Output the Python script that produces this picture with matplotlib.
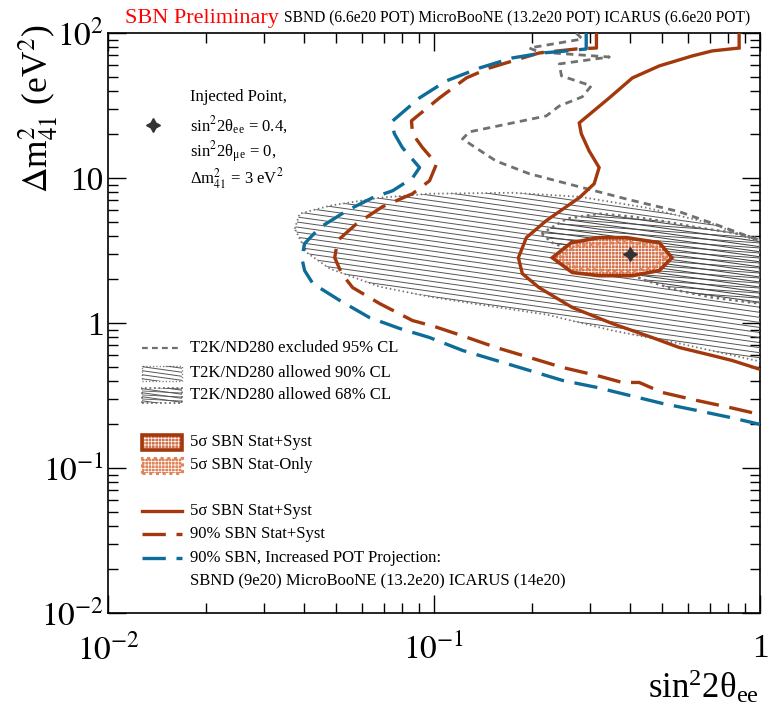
import numpy as np
import matplotlib
matplotlib.use('Agg')
import matplotlib.pyplot as plt
from matplotlib.patches import Polygon, Rectangle
from matplotlib.collections import LineCollection
from matplotlib.lines import Line2D
from matplotlib.ticker import FixedLocator, FixedFormatter, LogLocator, NullFormatter

plt.rcParams['font.family'] = ['Liberation Serif', 'DejaVu Serif']
plt.rcParams['mathtext.fontset'] = 'stix'
plt.rcParams['hatch.linewidth'] = 0.5

# ---------------- data ----------------
ss5_x = [0.863, 0.863, 0.713, 0.62, 0.491, 0.406, 0.345, 0.279, 0.283, 0.299, 0.321, 0.310, 0.279,
         0.221, 0.192, 0.1815, 0.1866, 0.210, 0.2655, 0.352, 0.467, 0.565, 0.713, 0.820, 1.0]
ss5_y = [100, 78.8, 75.2, 69.5, 59.3, 49.0, 35.7, 24.0, 20.2, 15.4, 11.8, 9.13, 7.31,
         5.08, 3.88, 2.82, 2.19, 1.755, 1.28, 0.992, 0.794, 0.678, 0.597, 0.552, 0.479]

ss90_x = [0.315, 0.315, 0.273, 0.210, 0.174, 0.148, 0.1257, 0.104, 0.0853, 0.0859, 0.0922, 0.1018,
          0.0969, 0.0859, 0.0695, 0.0579, 0.0506, 0.0496, 0.0521, 0.0563, 0.0681, 0.0859, 0.1003,
          0.124, 0.155, 0.196, 0.2476, 0.315, 0.378, 0.426, 0.501, 0.637, 0.804, 1.0]
ss90_y = [100, 78.8, 77.6, 72.8, 64.1, 57.4, 49.0, 35.7, 24.8, 20.2, 16.2, 12.5,
          9.57, 7.79, 6.34, 4.84, 3.70, 2.82, 2.19, 1.755, 1.362, 1.04, 0.946,
          0.807, 0.678, 0.579, 0.494, 0.435, 0.389, 0.389, 0.332, 0.293, 0.262, 0.234]

proj_x = [0.293, 0.293, 0.255, 0.215, 0.174, 0.138, 0.109, 0.0903, 0.0741, 0.0756, 0.080, 0.0903,
          0.0859, 0.0747, 0.0648, 0.054, 0.0446, 0.0401, 0.0393, 0.0401, 0.0425, 0.0514, 0.0634,
          0.0784, 0.0969, 0.1223, 0.155, 0.196, 0.2476, 0.315, 0.397, 0.501, 0.637, 0.804, 1.0]
proj_y = [100, 77.6, 75.2, 72.8, 67.3, 57.4, 46.7, 35.7, 24.4, 20.2, 16.2, 11.8,
          10.0, 8.17, 7.31, 5.95, 4.54, 3.53, 2.82, 2.30, 1.87, 1.43, 1.09,
          0.917, 0.794, 0.647, 0.552, 0.471, 0.402, 0.360, 0.317, 0.279, 0.250, 0.224, 0.200]

excl_x = [0.273, 0.285, 0.196, 0.210, 0.345, 0.2424, 0.246, 0.3037, 0.285, 0.2424, 0.221, 0.1284,
          0.1223, 0.133, 0.155, 0.196, 0.279, 0.397, 0.565, 0.749, 1.0]
excl_y = [100, 90.9, 78.8, 74.0, 68.3, 61.2, 50.6, 43.2, 36.3, 31.4, 26.8, 20.8,
          18.6, 16.4, 13.1, 10.7, 8.70, 7.08, 5.86, 4.69, 3.70]

t2k90_x = [0.0374, 0.0387, 0.0479, 0.0681, 0.0969, 0.174, 0.279, 0.448, 0.713, 1.0,
           1.0, 0.565, 0.352, 0.221, 0.138, 0.0969, 0.0681, 0.0479, 0.0407]
t2k90_y = [4.47, 5.67, 6.44, 7.31, 7.79, 7.91, 7.43, 6.24, 4.84, 3.58,
           0.543, 0.723, 0.888, 1.144, 1.34, 1.52, 1.78, 2.37, 3.06]

t2k68_x = [0.2135, 0.255, 0.321, 0.406, 0.515, 0.650, 0.820, 1.0,
           1.0, 0.713, 0.565, 0.448, 0.352, 0.279, 0.2307]
t2k68_y = [4.13, 5.24, 5.67, 5.41, 5.0, 4.54, 4.20, 3.82,
           1.362, 1.50, 1.67, 1.96, 2.41, 3.01, 3.58]

sbn5_x = [0.2307, 0.2636, 0.321, 0.389, 0.491, 0.537, 0.491, 0.406, 0.321, 0.2655]
sbn5_y = [2.82, 3.58, 3.88, 3.88, 3.58, 2.82, 2.30, 2.12, 2.12, 2.23]

stat_x = [0.2424, 0.275, 0.389, 0.473, 0.512, 0.473, 0.389, 0.275]
stat_y = [2.82, 3.42, 3.64, 3.37, 2.82, 2.41, 2.26, 2.37]

inj_x = [0.4]
inj_y = [3.0]

xtick_vals = [1e-2, 1e-1, 1]
xtick_labels = [r'$10^{-2}$', r'$10^{-1}$', '1']
ytick_vals = [1e-2, 1e-1, 1, 10, 100]
ytick_labels = [r'$10^{-2}$', r'$10^{-1}$', '1', '10', r'$10^{2}$']

legend_labels = ['T2K/ND280 excluded 95% CL', 'T2K/ND280 allowed 90% CL', 'T2K/ND280 allowed 68% CL',
                 '5σ SBN Stat+Syst', '5σ SBN Stat-Only',
                 '5σ SBN Stat+Syst', '90% SBN Stat+Syst', '90% SBN, Increased POT Projection:',
                 'SBND (9e20) MicroBooNE (13.2e20) ICARUS (14e20)']

# ---------------- style ----------------
RED = '#a3380c'
BLUE = '#0e6d98'
ORANGE = '#d4714a'
ORANGE_L = '#e08358'
GRAY = '#707070'
HATCH = '#555555'

W, H = 780, 709
fig = plt.figure(figsize=(W / 100, H / 100), dpi=100)
AX_L, AX_R, AX_T, AX_B = 108, 760, 33, 613
ax = fig.add_axes([AX_L / W, 1 - AX_B / H, (AX_R - AX_L) / W, (AX_B - AX_T) / H])
ax.set_xscale('log')
ax.set_yscale('log')

wpx, hpx = AX_R - AX_L, AX_B - AX_T


def hatch_lines(poly, spacing_px, angle_deg, color, lw, offset=0.0, transform=None,
                box=(0, 0, 1, 1), wp=wpx, hp=hpx):
    x0, y0, x1, y1 = box
    slope_px = -np.tan(np.radians(angle_deg))
    s = slope_px * (wp / hp) * (y1 - y0) / (x1 - x0)
    sp = spacing_px / hp * (y1 - y0) / np.cos(np.radians(angle_deg))
    cs = np.arange(y0 - 1.5 * (y1 - y0), y1 + 1.5 * (y1 - y0), sp) + offset * sp
    segs = [[(x0, c), (x1, c + s * (x1 - x0))] for c in cs]
    lc = LineCollection(segs, transform=transform, colors=color, linewidths=lw)
    lc.set_clip_path(poly)
    return lc


# T2K 90% allowed
p90 = Polygon(np.column_stack([t2k90_x, t2k90_y]), closed=True, transform=ax.transData,
              facecolor='none', edgecolor='none')
ax.add_patch(p90)
ax.add_collection(hatch_lines(p90, 5.0, 8, HATCH, 0.7, transform=ax.transAxes), autolim=False)
ax.plot(t2k90_x + t2k90_x[:1], t2k90_y + t2k90_y[:1], color=GRAY, lw=1.3,
        linestyle=(0, (0.8, 1.6)), zorder=3)

# T2K 68% allowed
p68 = Polygon(np.column_stack([t2k68_x, t2k68_y]), closed=True, transform=ax.transData,
              facecolor='white', edgecolor='none', zorder=2.5)
ax.add_patch(p68)
c68a = hatch_lines(p68, 5.0, 8, '#444444', 0.75, transform=ax.transAxes)
c68a.set_zorder(2.6)
ax.add_collection(c68a, autolim=False)
c68 = hatch_lines(p68, 5.0, 4, '#444444', 0.65, offset=0.5, transform=ax.transAxes)
c68.set_zorder(2.6)
ax.add_collection(c68, autolim=False)
ax.plot(t2k68_x + t2k68_x[:1], t2k68_y + t2k68_y[:1], color=GRAY, lw=1.8,
        linestyle=(0, (1.0, 1.5)), zorder=3)

# T2K excluded
ax.plot(excl_x, excl_y, color=GRAY, lw=2.0, linestyle=(0, (2.6, 1.9)), zorder=4)

# SBN 5 sigma regions
ax.add_patch(Polygon(np.column_stack([sbn5_x, sbn5_y]), closed=True, facecolor=ORANGE,
                     edgecolor='white', hatch='+++++', lw=0, zorder=5))
ax.add_patch(Polygon(np.column_stack([stat_x, stat_y]), closed=True, facecolor='none',
                     edgecolor=ORANGE_L, lw=2.2, linestyle=(0, (1, 1.2)), zorder=5.5))
ax.add_patch(Polygon(np.column_stack([sbn5_x, sbn5_y]), closed=True, facecolor='none',
                     edgecolor=RED, lw=2.6, zorder=6))

# curves
ax.plot(ss5_x, ss5_y, color=RED, lw=2.4, zorder=7, solid_joinstyle='miter')
ax.plot(ss90_x, ss90_y, color=RED, lw=2.4, linestyle=(0, (7.0, 3.2)), zorder=7)
ax.plot(proj_x, proj_y, color=BLUE, lw=2.4, linestyle=(0, (7.0, 3.2)), zorder=7)

ax.plot(inj_x, inj_y, marker=(4, 1, 0), color='#333333', ms=10, zorder=8, ls='none')

ax.set_xlim(1e-2, 1)
ax.set_ylim(1e-2, 1e2)

# ticks
for axis, vals, labs in ((ax.xaxis, xtick_vals, xtick_labels), (ax.yaxis, ytick_vals, ytick_labels)):
    axis.set_major_locator(FixedLocator(vals))
    axis.set_major_formatter(FixedFormatter(labs))
    axis.set_minor_locator(LogLocator(base=10, subs=np.arange(2, 10), numticks=20))
    axis.set_minor_formatter(NullFormatter())
ax.tick_params(which='both', direction='in', top=True, right=True, width=1.0, color='black')
ax.tick_params(which='major', length=13)
ax.tick_params(which='minor', length=7)
ax.tick_params(axis='x', which='major', labelsize=24, pad=15)
ax.tick_params(axis='y', which='major', labelsize=24, pad=3)
for sp in ax.spines.values():
    sp.set_linewidth(1.2)


def fx(px):
    return px / W


def fy(py):
    return 1 - py / H


fig.text(fx(759), fy(706), r'$\mathregular{sin^2 2\theta_{ee}}$', fontsize=25,
         ha='right', va='bottom')
fig.text(fx(39), fy(24), r'$\Delta\mathregular{m}^2_{41}$ (eV$^2$)', fontsize=25.5,
         rotation=90, ha='center', va='top')

# titles
fig.text(fx(125), fy(18), 'SBN Preliminary', color='red', fontsize=16, va='center', ha='left')
fig.text(fx(284), fy(18), 'SBND (6.6e20 POT) MicroBooNE (13.2e20 POT) ICARUS (6.6e20 POT)',
         color='black', fontsize=11.2, va='center', ha='left')

# injected point annotation
fig.add_artist(Line2D([fx(153)], [fy(125)], marker=(4, 1, 0), color='#333333', ms=10, ls='none'))
for py, txt in ((97, 'Injected Point,'),
                (125, r'sin$^2$2θ$_{\mathregular{ee}}$ = 0.4,'),
                (152, r'sin$^2$2θ$_{\mathregular{μe}}$ = 0,'),
                (179, r'Δm$^2_{41}$ = 3 eV$^2$')):
    fig.text(fx(190), fy(py), txt, fontsize=12, va='center', ha='left')

# legend
LX0, LX1 = 142, 182
leg_y = [348, 373, 395, 442, 465, 511, 534, 558, 581]
for py, txt in zip(leg_y, legend_labels):
    fig.text(fx(190), fy(py), txt, fontsize=12, va='center', ha='left')

# excluded symbol
fig.add_artist(Line2D([fx(LX0), fx(LX1)], [fy(348)] * 2, color=GRAY, lw=1.6,
                      linestyle=(0, (2.6, 1.9))))


def fig_rect(py, hgt=15):
    return (fx(LX0), fy(py + hgt / 2), (LX1 - LX0) / W, hgt / H)


# 90% symbol
x, y, w, h = fig_rect(373)
r90 = Rectangle((x, y), w, h, transform=fig.transFigure, facecolor='none', edgecolor=GRAY,
                lw=1.0, linestyle=(0, (0.8, 1.6)))
fig.add_artist(r90)
fig.add_artist(hatch_lines(r90, 4.0, 8, HATCH, 0.7, transform=fig.transFigure,
                           box=(x, y, x + w, y + h), wp=LX1 - LX0, hp=15))
# 68% symbol
x, y, w, h = fig_rect(395)
r68 = Rectangle((x, y), w, h, transform=fig.transFigure, facecolor='none', edgecolor=GRAY,
                lw=1.3, linestyle=(0, (1.0, 1.5)))
fig.add_artist(r68)
fig.add_artist(hatch_lines(r68, 4.0, 8, HATCH, 0.7, transform=fig.transFigure,
                           box=(x, y, x + w, y + h), wp=LX1 - LX0, hp=15))
fig.add_artist(hatch_lines(r68, 4.0, 3, HATCH, 0.6, offset=0.5, transform=fig.transFigure,
                           box=(x, y, x + w, y + h), wp=LX1 - LX0, hp=15))

# 5 sigma boxes
x, y, w, h = fig_rect(442)
fig.add_artist(Rectangle((x, y), w, h, transform=fig.transFigure, facecolor=ORANGE,
                         edgecolor='white', hatch='+++++', lw=0))
fig.add_artist(Rectangle((x, y), w, h, transform=fig.transFigure, facecolor='none',
                         edgecolor=RED, lw=2.6))
x, y, w, h = fig_rect(465)
fig.add_artist(Rectangle((x, y), w, h, transform=fig.transFigure, facecolor=ORANGE_L,
                         edgecolor='white', hatch='+++++', lw=0))
fig.add_artist(Rectangle((x, y), w, h, transform=fig.transFigure, facecolor='none',
                         edgecolor=ORANGE_L, lw=2.2, linestyle=(0, (1, 1.2))))

# line symbols
fig.add_artist(Line2D([fx(LX0), fx(LX1)], [fy(511)] * 2, color=RED, lw=2.4))
fig.add_artist(Line2D([fx(LX0), fx(LX1)], [fy(534)] * 2, color=RED, lw=2.4,
                      linestyle=(0, (7.0, 3.2))))
fig.add_artist(Line2D([fx(LX0), fx(LX1)], [fy(558)] * 2, color=BLUE, lw=2.4,
                      linestyle=(0, (7.0, 3.2))))

fig.savefig('out.png', dpi=100)
